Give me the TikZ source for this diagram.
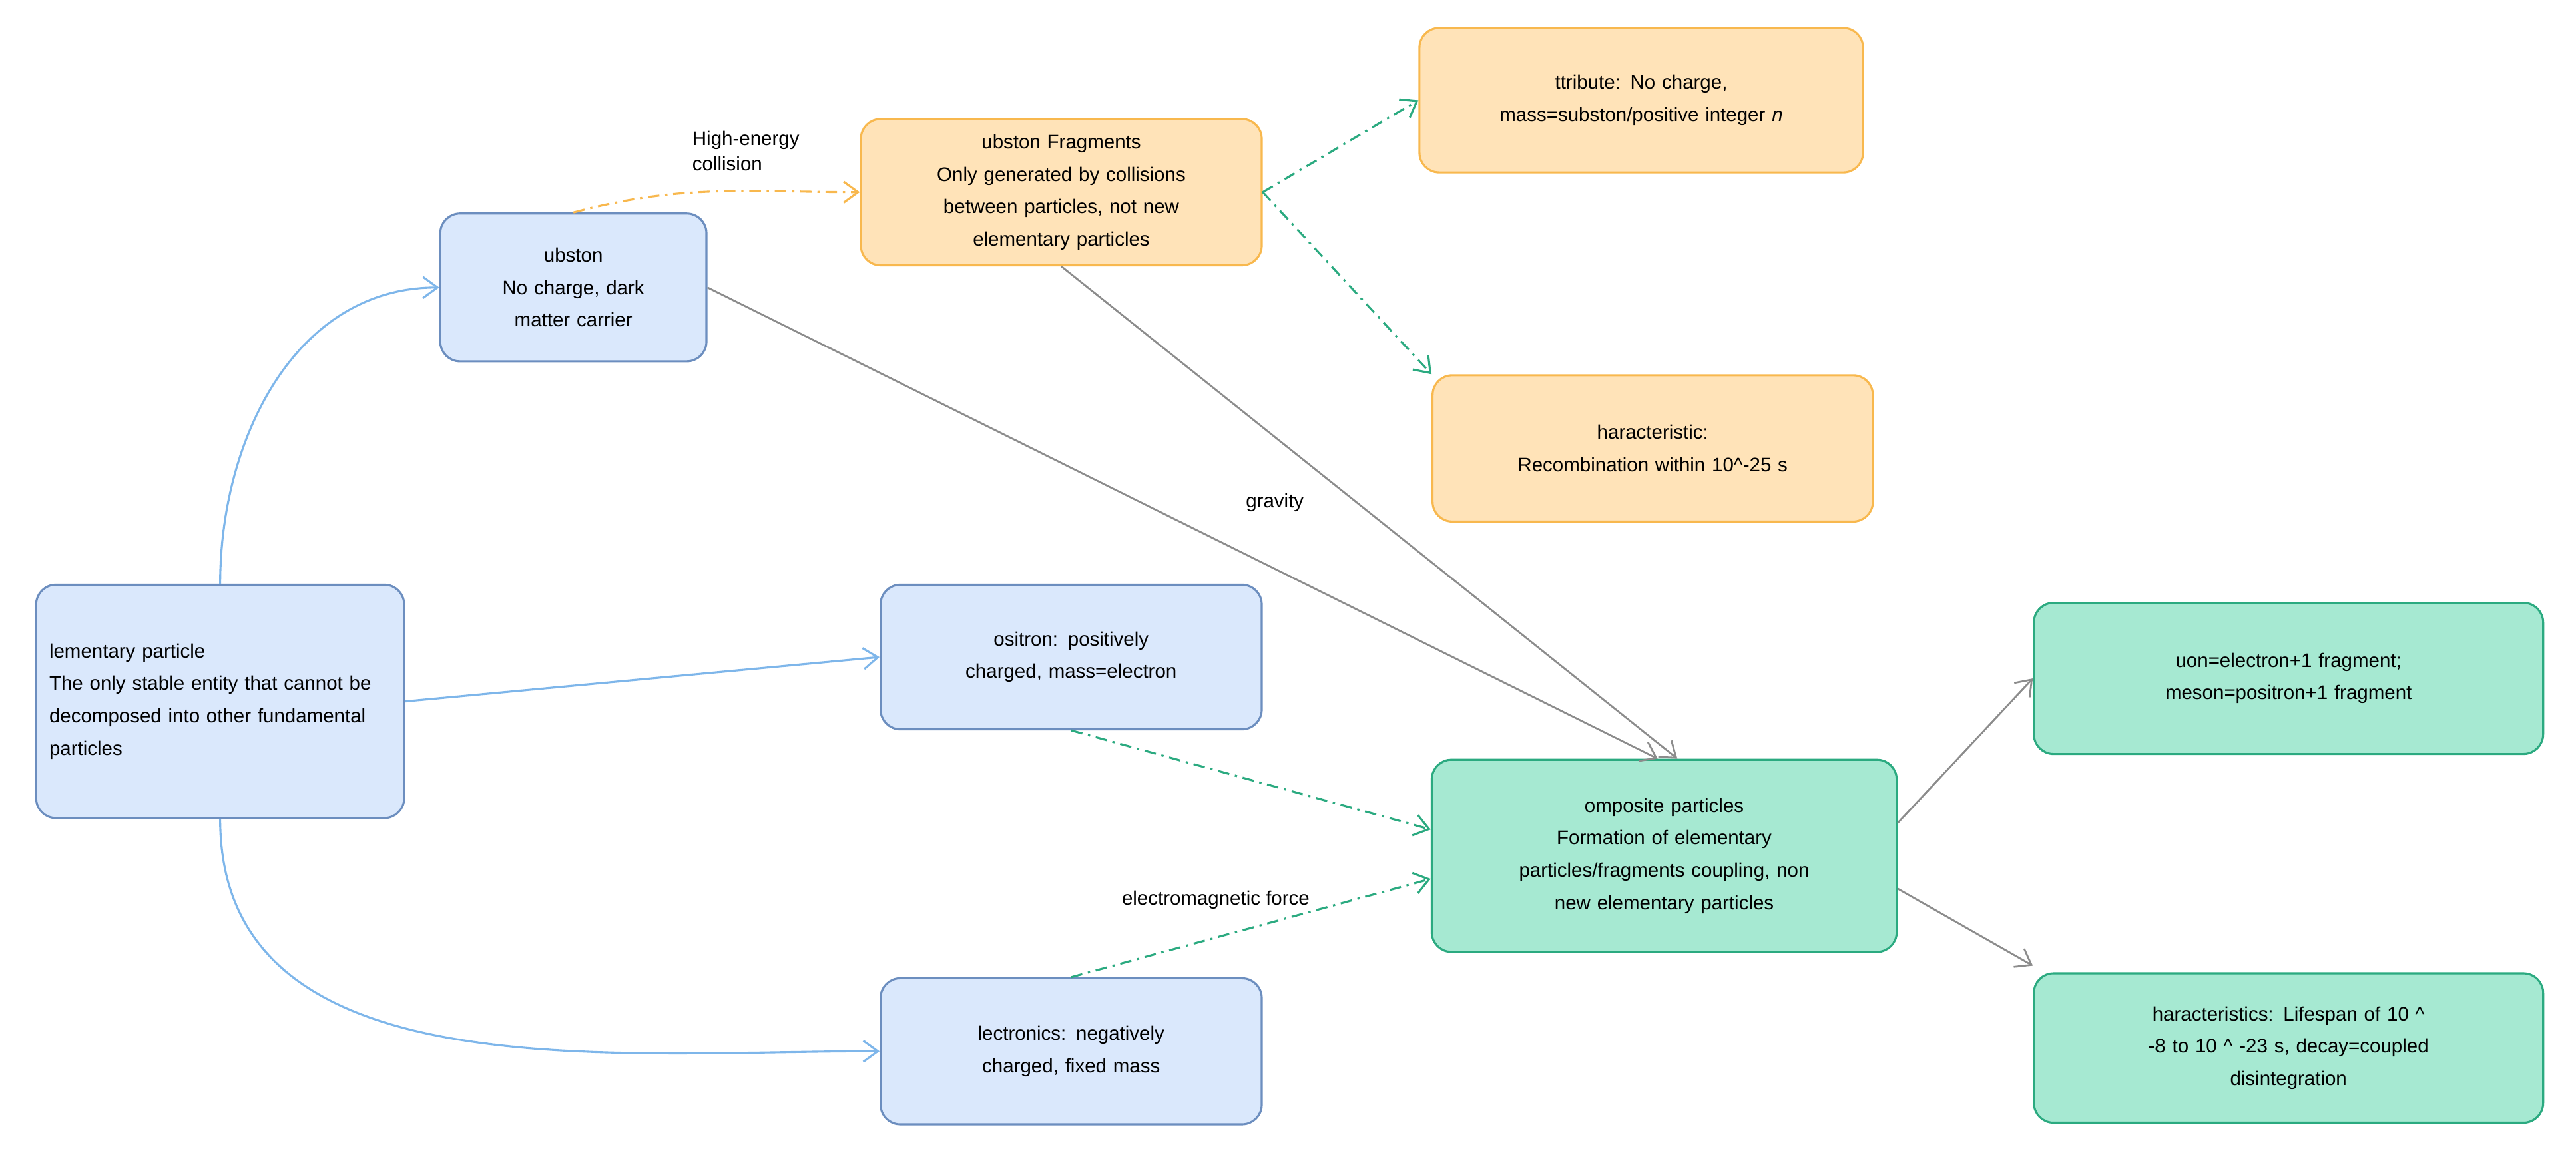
\documentclass[tikz,border=0pt]{standalone}
\usepackage{fontspec}
\setmainfont{Liberation Sans}
\usetikzlibrary{arrows.meta}
\definecolor{bluefill}{HTML}{DAE8FC}
\definecolor{bluedraw}{HTML}{6C8EBF}
\definecolor{blueline}{HTML}{7EB6EA}
\definecolor{orangefill}{HTML}{FFE3B8}
\definecolor{orangedraw}{HTML}{F8B84E}
\definecolor{greenfill}{HTML}{A6E9D2}
\definecolor{greendraw}{HTML}{2BAA80}
\definecolor{greyline}{HTML}{8C8C8C}
\tikzset{
    box/.style={rectangle, rounded corners=0.3cm, line width=0.9pt, align=center, inner sep=2pt,
        font=\fontsize{8.5}{14}\selectfont},
    bluebox/.style={box, fill=bluefill, draw=bluedraw},
    orangebox/.style={box, fill=orangefill, draw=orangedraw},
    greenbox/.style={box, fill=greenfill, draw=greendraw},
    title/.style={font=\fontsize{10.5}{14}\selectfont\bfseries},
    tip/.style={-{Straight Barb[length=2.2mm, width=3.2mm]}},
    blueedge/.style={tip, draw=blueline, line width=0.9pt},
    greyedge/.style={tip, draw=greyline, line width=0.8pt},
    greenedge/.style={tip, draw=greendraw, line width=0.9pt, dash pattern=on 5pt off 2.5pt on 1pt off 2.5pt},
    orangeedge/.style={tip, draw=orangedraw, line width=0.9pt, dash pattern=on 5pt off 2.5pt on 1pt off 2.5pt},
    edgelabel/.style={font=\fontsize{8.5}{11}\selectfont, align=left}
}
\begin{document}
\begin{tikzpicture}
        \useasboundingbox (0, 0) rectangle (39.2, -17.575);
        % left column
        \node [bluebox, minimum width=5.6cm, minimum height=3.55cm, text width=5.2cm, align=left] (elem) at (3.35, -10.675)
            {{\title Elementary particle}\\The only stable entity that cannot be decomposed into other fundamental particles};
        \node [bluebox, minimum width=4.05cm, minimum height=2.25cm, text width=3.7cm] (subston) at (8.725, -4.375)
            {{\title Subston}\\No charge, dark\\matter carrier};
        \node [bluebox, minimum width=5.8cm, minimum height=2.2cm, text width=5.4cm] (positron) at (16.3, -10.0)
            {{\title Positron:} positively\\charged, mass=electron};
        \node [bluebox, minimum width=5.8cm, minimum height=2.225cm, text width=5.4cm] (electron) at (16.3, -16.0)
            {{\title Electronics:} negatively\\charged, fixed mass};
        
        % fragments
        \node [orangebox, minimum width=6.1cm, minimum height=2.225cm, text width=5.8cm] (frag) at (16.15, -2.925)
            {{\title Subston Fragments}\\Only generated by collisions\\between particles, not new\\elementary particles};
        \node [orangebox, minimum width=6.75cm, minimum height=2.2cm, text width=6.4cm] (attr) at (24.975, -1.525)
            {{\title Attribute:} No charge,\\mass=subston/positive integer \textit{n}};
        \node [orangebox, minimum width=6.7cm, minimum height=2.225cm, text width=6.4cm] (charac) at (25.15, -6.825)
            {{\title Characteristic:}\\Recombination within 10\^{}-25 s};
        
        % composites
        \node [greenbox, minimum width=7.075cm, minimum height=2.925cm, text width=6.7cm] (comp) at (25.325, -13.025)
            {{\title Composite particles}\\Formation of elementary\\particles/fragments coupling, non\\new elementary particles};
        \node [greenbox, minimum width=7.75cm, minimum height=2.3cm, text width=7.4cm] (muon) at (34.825, -10.325)
            {{\title Muon}=electron+1 fragment;\\{\title π meson}=positron+1 fragment};
        \node [greenbox, minimum width=7.75cm, minimum height=2.275cm, text width=7.4cm] (chars) at (34.825, -15.95)
            {{\title Characteristics:} Lifespan of 10 \^{}\\-8 to 10 \^{} -23 s, decay=coupled\\disintegration};
        
        % connectors
        \draw [blueedge] (elem.north) to [out=90, in=180] (subston.west);
        \draw [blueedge] (elem.east) -- (positron.west);
        \draw [blueedge] (elem.south) to [out=-90, in=180] (electron.west);
        \draw [orangeedge] (subston.north) to [out=15, in=180] (frag.west);
        \node [edgelabel] (collision) at (11.35, -2.3) {High-energy\\collision};
        \draw [greenedge] (frag.east) -- (attr.west);
        \draw [greenedge] (frag.east) -- (charac.north west);
        \draw [greyedge] (subston.east) -- ([xshift=-0.1cm]comp.north);
        \draw [greyedge] (frag.south) -- ([xshift=0.2cm]comp.north);
        \node [edgelabel] (gravity) at (19.4, -7.65) {gravity};
        \draw [greenedge] (positron.south) -- ([yshift=0.4cm]comp.west);
        \draw [greenedge] (electron.north) -- ([yshift=-0.35cm]comp.west);
        \node [edgelabel] (emforce) at (18.5, -13.7) {electromagnetic force};
        \draw [greyedge] ([yshift=0.5cm]comp.east) -- (muon.west);
        \draw [greyedge] ([yshift=-0.5cm]comp.east) -- ([yshift=0.1cm]chars.north west);
        \end{tikzpicture}
\end{document}
